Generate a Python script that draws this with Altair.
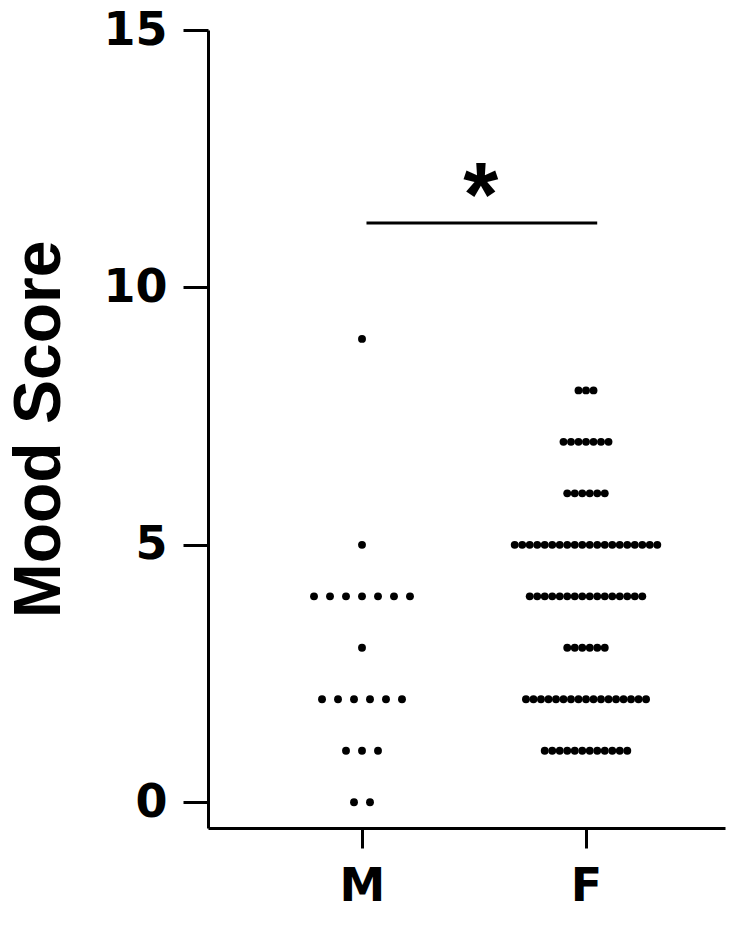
import altair as alt
import pandas as pd

# Individual mood scores
m_scores = [0, 0, 1, 1, 1, 2, 2, 2, 2, 2, 2, 3, 4, 4, 4, 4, 4, 4, 4, 5, 9]
f_counts_by_score = {1: 12, 2: 17, 3: 6, 4: 16, 5: 20, 6: 6, 7: 7, 8: 3}
f_scores = [s for s, c in f_counts_by_score.items() for _ in range(c)]

groups = ["M", "F"]
group_pos = [1, 2]
y_ticks = [0, 5, 10, 15]
sig_y = 11.25

df = pd.DataFrame({
    "group": ["M"] * len(m_scores) + ["F"] * len(f_scores),
    "score": m_scores + f_scores,
})

sig_df = pd.DataFrame({"x1": [1.02], "x2": [2.05], "y": [sig_y], "xm": [1.53], "label": ["*"]})

W, H = 517, 798
xscale = alt.Scale(domain=[0.3125, 2.6205], nice=False, zero=False)
yscale = alt.Scale(domain=[-0.5, 15], nice=False, zero=False)

dots = alt.Chart(df).transform_window(
    rank="row_number()", groupby=["group", "score"]
).transform_joinaggregate(
    n="count()", groupby=["group", "score"]
).transform_calculate(
    xpos="(datum.group == 'M' ? 1 : 2) + (datum.rank - 1 - (datum.n - 1) / 2) * (datum.group == 'M' ? 0.0714 : 0.0335)"
).mark_circle(color="black", opacity=1, size=62).encode(
    x=alt.X("xpos:Q", scale=xscale, axis=alt.Axis(
        values=group_pos, labelExpr="datum.value == 1 ? 'M' : 'F'", title=None,
        grid=False, domainWidth=3, domainColor="black", tickWidth=3, tickColor="black",
        tickSize=20, labelFont="DejaVu Sans", labelFontWeight="bold", labelFontSize=46,
        labelColor="black", labelPadding=16)),
    y=alt.Y("score:Q", scale=yscale, axis=alt.Axis(
        values=y_ticks, title="Mood Score", grid=False, domainWidth=3, domainColor="black",
        tickWidth=3, tickColor="black", tickSize=25, labelFont="DejaVu Sans",
        labelFontWeight="bold", labelFontSize=46, labelColor="black", labelPadding=16,
        titleFont="Liberation Sans", titleFontWeight="bold", titleFontSize=66,
        titleColor="black", titlePadding=29)),
)

sig_line = alt.Chart(sig_df).mark_rule(color="black", strokeWidth=3).encode(
    x=alt.X("x1:Q", scale=xscale), x2="x2:Q", y=alt.Y("y:Q", scale=yscale)
)

sig_text = alt.Chart(sig_df).mark_text(
    font="Liberation Sans", fontWeight="bold", fontSize=90, baseline="alphabetic", dy=3, color="black"
).encode(
    x=alt.X("xm:Q", scale=xscale), y=alt.Y("y:Q", scale=yscale), text="label:N"
)

chart = alt.layer(dots, sig_line, sig_text).properties(
    width=W, height=H,
    autosize=alt.AutoSizeParams(type="none"),
    padding={"left": 200, "top": 22, "right": 19, "bottom": 95},
).configure(background="white", view=alt.ViewConfig(stroke=None))

chart.save("out.html", embed_options={"renderer": "svg", "actions": False})
